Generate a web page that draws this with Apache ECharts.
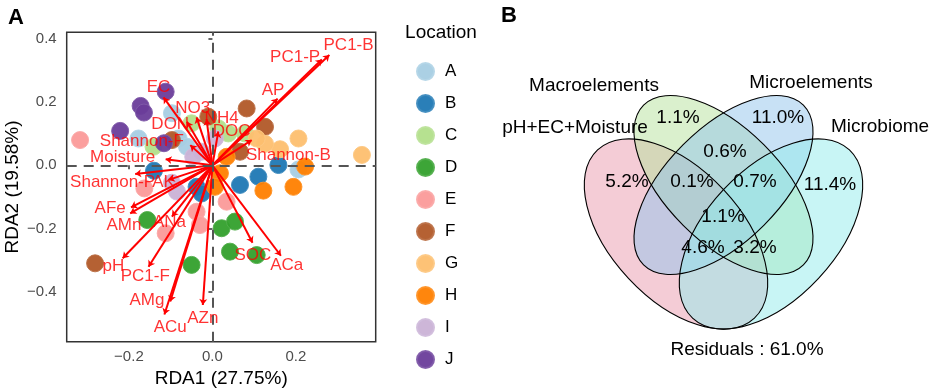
<!DOCTYPE html>
<html>
<head>
<meta charset="utf-8">
<script src="https://cdn.jsdelivr.net/npm/echarts@6/dist/echarts.min.js"></script>
<style>
  html, body { margin: 0; padding: 0; background: #fff; }
  #chart { width: 935px; height: 391px; }
</style>
</head>
<body>
<div id="chart"></div>
<script>
const FONT = '"Liberation Sans", Arial, sans-serif';

// ---- panel A: sample scores (RDA1, RDA2) per location ----
const locations = ['A', 'B', 'C', 'D', 'E', 'F', 'G', 'H', 'I', 'J'];
const locationColors = ['#A6CEE3', '#1F78B4', '#B2DF8A', '#33A02C', '#FB9A99',
                        '#B15928', '#FDBF6F', '#FF7F00', '#CAB2D6', '#6A3D9A'];
const siteA = [[-0.097, 0.165], [-0.177, 0.085], [-0.081, 0.085], [-0.061, 0.059], [0.206, -0.013]];
const siteB = [[0.066, -0.062], [0.110, -0.036], [0.158, 0.001], [-0.140, -0.017], [-0.038, -0.068], [-0.026, -0.089]];
const siteC = [[-0.141, 0.059], [-0.050, 0.133], [0.038, 0.101], [0.078, 0.101], [0.014, 0.117]];
const siteD = [[0.022, -0.199], [0.054, -0.178], [0.042, -0.273], [0.106, -0.284], [-0.156, -0.173], [-0.050, -0.315]];
const siteE = [[-0.317, 0.080], [-0.163, -0.073], [-0.112, -0.215], [-0.038, -0.147], [-0.030, -0.189], [0.034, -0.115]];
const siteF = [[0.082, 0.180], [-0.010, 0.154], [0.126, 0.122], [-0.097, 0.080], [0.066, 0.043], [-0.281, -0.310]];
const siteG = [[0.206, 0.085], [0.358, 0.033], [0.162, 0.051], [0.126, 0.068], [0.106, 0.085]];
const siteH = [[0.222, -0.004], [0.194, -0.068], [0.122, -0.080], [0.034, 0.027], [0.018, -0.025], [0.006, -0.068]];
const siteI = [[-0.085, -0.083], [-0.097, -0.055], [0.006, 0.085], [-0.026, 0.043], [-0.046, 0.027]];
const siteJ = [[-0.112, 0.233], [-0.172, 0.188], [-0.164, 0.167], [-0.221, 0.109], [-0.116, 0.070]];
const sitePoints = [siteA, siteB, siteC, siteD, siteE, siteF, siteG, siteH, siteI, siteJ];

// ---- panel A: environmental arrows ----
const arrowNames = ['PC1-B', 'PC1-P', 'AP', 'Shannon-B', 'DOC', 'NH4', 'NO3', 'DON', 'EC',
                    'Shannon-F', 'Moisture', 'Shannon-P', 'AK', 'AFe', 'AMn', 'ANa', 'pH',
                    'PC1-F', 'AMg', 'ACu', 'AZn', 'SOC', 'ACa'];
const arrowX = [0.280, 0.262, 0.156, 0.094, 0.014, -0.014, -0.038, -0.061, -0.117,
                -0.053, -0.112, -0.185, -0.105, -0.195, -0.197, -0.097, -0.215,
                -0.153, -0.101, -0.115, -0.023, 0.096, 0.164];
const arrowY = [0.349, 0.335, 0.211, 0.080, 0.107, 0.146, 0.152, 0.138, 0.215,
                0.064, 0.019, -0.027, -0.046, -0.133, -0.152, -0.162, -0.294,
                -0.321, -0.431, -0.472, -0.442, -0.245, -0.286];
const labelX = [0.326, 0.198, 0.145, 0.182, 0.046, 0.022, -0.047, -0.101, -0.129,
                -0.169, -0.215, -0.239, -0.117, -0.245, -0.212, -0.103, -0.237,
                -0.161, -0.157, -0.101, -0.023, 0.097, 0.178];
const labelY = [0.381, 0.342, 0.238, 0.033, 0.107, 0.149, 0.180, 0.131, 0.247,
                0.075, 0.027, -0.055, -0.055, -0.136, -0.189, -0.181, -0.321,
                -0.352, -0.426, -0.511, -0.484, -0.284, -0.315];

const xTicks = [-0.2, 0, 0.2];
const yTicks = [-0.4, -0.2, 0, 0.2, 0.4];

// ---- panel B: variance partitioning ----
const vennSets = ['pH+EC+Moisture', 'Macroelements', 'Microelements', 'Microbiome'];
const vennParts = ['5.2%', '1.1%', '11.0%', '11.4%', '0.6%', '0.1%', '0.7%', '1.1%', '4.6%', '3.2%'];
const residualText = 'Residuals : 61.0%';

const chart = echarts.init(document.getElementById('chart'));
const fmt = v => (v < 0 ? '\u2212' : '') + Math.abs(v).toFixed(1);

const pointSeries = locations.map((loc, i) => ({
  name: loc,
  type: 'scatter',
  data: sitePoints[i],
  symbolSize: 17,
  z: 2,
  itemStyle: {
    color: locationColors[i],
    borderColor: echarts.color.lift(locationColors[i], 0.15),
    borderWidth: 1,
    opacity: 0.95
  }
}));

const arrowSeries = {
  type: 'lines',
  coordinateSystem: 'cartesian2d',
  z: 3,
  silent: true,
  symbol: ['none', 'arrow'],
  symbolSize: 6,
  lineStyle: { color: '#FF0000', width: 2, opacity: 1, curveness: 0 },
  data: arrowNames.map((n, i) => ({ name: n, coords: [[0, 0], [arrowX[i], arrowY[i]]] }))
};

const labelSeries = {
  type: 'scatter',
  z: 5,
  silent: true,
  symbolSize: 1,
  itemStyle: { color: 'transparent' },
  label: {
    show: true, position: 'inside', formatter: '{b}',
    color: '#FF0000', fontSize: 17, fontFamily: FONT
  },
  data: arrowNames.map((n, i) => ({ name: n, value: [labelX[i], labelY[i]] })),
  markLine: {
    silent: true,
    symbol: ['none', 'none'],
    label: { show: false },
    lineStyle: { color: '#555555', type: [10, 7], width: 2 },
    data: [{ xAxis: 0 }, { yAxis: 0 }]
  }
};

// venn ellipses: [cx, cy, rx, ry, rotation deg, fill]
const ellipses = [
  [676, 234, 115, 65, -47, 'rgba(233,153,173,0.5)'],
  [723.5, 185, 113, 57, -45, 'rgba(181,225,155,0.5)'],
  [723.5, 185, 113, 57, 45, 'rgba(145,195,235,0.5)'],
  [771, 234, 115, 65, 47, 'rgba(145,235,235,0.5)']
];
const graphics = [];
ellipses.forEach(e => graphics.push({
  type: 'ellipse', x: e[0], y: e[1], rotation: e[4] * Math.PI / 180,
  shape: { cx: 0, cy: 0, rx: e[2], ry: e[3] },
  style: { fill: e[5], stroke: 'none' }, silent: true
}));
ellipses.forEach(e => graphics.push({
  type: 'ellipse', x: e[0], y: e[1], rotation: e[4] * Math.PI / 180,
  shape: { cx: 0, cy: 0, rx: e[2], ry: e[3] },
  style: { fill: 'none', stroke: '#000', lineWidth: 1.1 }, silent: true
}));
const txt = (s, x, y, size, extra) => graphics.push({
  type: 'text', x: x, y: y, silent: true, z: 10,
  style: Object.assign({ text: s, fontSize: size, fontFamily: FONT, fill: '#000',
                         align: 'center', verticalAlign: 'middle' }, extra || {})
});
txt(vennSets[0], 575, 128, 19);
txt(vennSets[1], 594, 86, 19);
txt(vennSets[2], 811, 83, 19);
txt(vennSets[3], 880, 127, 19);
const partPos = [[627, 182], [678, 118], [778, 118], [830, 185], [725, 152],
                 [692, 182], [755, 182], [723, 217], [703, 248], [755, 248]];
vennParts.forEach((p, i) => txt(p, partPos[i][0], partPos[i][1], 19));
txt(residualText, 747, 350, 19);
txt('Location', 441, 33, 19);
txt('A', 16, 18, 22, { fontWeight: 'bold' });
txt('B', 509, 16, 22, { fontWeight: 'bold' });

chart.setOption({
  animation: false,
  backgroundColor: '#fff',
  grid: {
    left: 66.7, right: 935 - 375.7, top: 32.3, bottom: 391 - 341.7,
    show: true, borderColor: '#333', borderWidth: 1.5, backgroundColor: 'transparent',
    outerBoundsMode: 'none'
  },
  xAxis: {
    type: 'value', min: -0.349, max: 0.391,
    name: 'RDA1 (27.75%)', nameLocation: 'middle', nameGap: 27,
    nameTextStyle: { fontSize: 19, color: '#000', fontFamily: FONT },
    axisLine: { show: false },
    splitLine: { show: false },
    axisTick: { show: true, customValues: xTicks, length: 4, lineStyle: { color: '#333', width: 1.5 } },
    axisLabel: { customValues: xTicks, formatter: fmt, fontSize: 15, color: '#4D4D4D', fontFamily: FONT, margin: 8 }
  },
  yAxis: {
    type: 'value', min: -0.558, max: 0.421,
    name: 'RDA2 (19.58%)', nameLocation: 'middle', nameGap: 44, nameRotate: 90,
    nameTextStyle: { fontSize: 19, color: '#000', fontFamily: FONT },
    axisLine: { show: false },
    splitLine: { show: false },
    axisTick: { show: true, customValues: yTicks, length: 4, lineStyle: { color: '#333', width: 1.5 } },
    axisLabel: { customValues: yTicks, formatter: fmt, fontSize: 15, color: '#4D4D4D', fontFamily: FONT, margin: 10 }
  },
  legend: {
    data: locations, orient: 'vertical', left: 411, top: 57,
    itemWidth: 17, itemHeight: 17, itemGap: 13, icon: 'circle', selectedMode: false,
    textStyle: { fontSize: 17, color: '#000', fontFamily: FONT, padding: [0, 0, 0, 6] }
  },
  graphic: graphics,
  series: pointSeries.concat([arrowSeries, labelSeries])
});
</script>
</body>
</html>
